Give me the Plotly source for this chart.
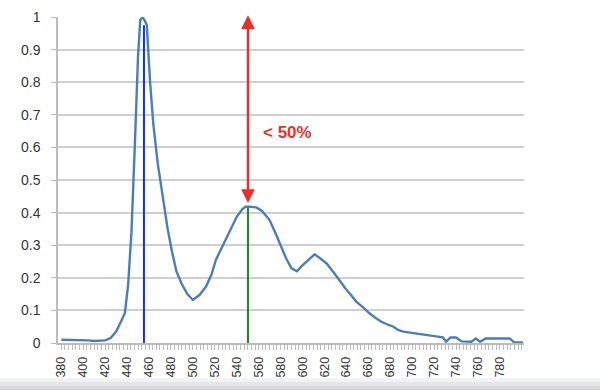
import plotly.graph_objects as go

wavelength = [380, 390, 400, 405, 410, 415, 420, 425, 430, 435, 438, 441, 444, 447, 450, 452, 454, 456, 458,
              461, 464, 468, 473, 477, 481, 485, 490, 495, 500, 506, 512, 517, 521, 526, 531, 535, 540, 545,
              548, 552, 558, 563, 570, 575, 579, 585, 590, 595, 599, 604, 611, 616, 622, 629, 634, 639, 644,
              649, 655, 661, 667, 672, 678, 683, 687, 692, 698, 707, 716, 725, 728, 731, 735, 740, 745, 754,
              758, 762, 767, 789, 793, 801]
intensity = [0.010, 0.010, 0.010, 0.008, 0.006, 0.006, 0.008, 0.015, 0.035, 0.07, 0.092, 0.18, 0.34, 0.60,
             0.88, 0.99, 1.0, 0.99, 0.975, 0.80, 0.67, 0.55, 0.44, 0.35, 0.28, 0.22, 0.18, 0.15, 0.132, 0.147,
             0.173, 0.21, 0.255, 0.29, 0.326, 0.355, 0.387, 0.41, 0.418, 0.418, 0.416, 0.405, 0.377, 0.34,
             0.306, 0.26, 0.229, 0.22, 0.235, 0.25, 0.272, 0.26, 0.244, 0.214, 0.19, 0.168, 0.148, 0.127,
             0.11, 0.091, 0.076, 0.065, 0.056, 0.05, 0.04, 0.035, 0.032, 0.028, 0.025, 0.019, 0.017, 0.004,
             0.017, 0.017, 0.005, 0.004, 0.014, 0.004, 0.014, 0.014, 0.002, 0.002]

blue_peak_x = 455.4
blue_peak_y = 0.975
green_peak_x = 550.3
green_peak_y = 0.415
arrow_top = 1.005
arrow_bottom = 0.425
label_text = "< 50%"
x_ticks = list(range(380, 781, 20))
y_ticks = [0, 0.1, 0.2, 0.3, 0.4, 0.5, 0.6, 0.7, 0.8, 0.9, 1]
y_labels = ["0", "0.1", "0.2", "0.3", "0.4", "0.5", "0.6", "0.7", "0.8", "0.9", "1"]

fig = go.Figure()
fig.add_trace(go.Scatter(x=wavelength, y=intensity, mode="lines",
                         line=dict(color="#4A7EBB", width=2.4), showlegend=False))
fig.add_trace(go.Scatter(x=[blue_peak_x, blue_peak_x], y=[0, blue_peak_y], mode="lines",
                         line=dict(color="#1030F0", width=2), showlegend=False))
fig.add_trace(go.Scatter(x=[green_peak_x, green_peak_x], y=[0, green_peak_y], mode="lines",
                         line=dict(color="#1E8A1E", width=2), showlegend=False))

fig.add_annotation(x=green_peak_x, y=arrow_top, ax=green_peak_x, ay=arrow_bottom,
                   xref="x", yref="y", axref="x", ayref="y", text="", showarrow=True,
                   arrowhead=2, startarrowhead=2, arrowside="end+start", arrowsize=1.1,
                   arrowwidth=2.5, arrowcolor="#E8302A")
fig.add_annotation(x=562.5, y=0.645, xref="x", yref="y", text="<b>" + label_text + "</b>",
                   showarrow=False, xanchor="left", yanchor="middle",
                   font=dict(family="Liberation Sans, Arial", size=17, color="#E8302A"))

# bottom gray band
band = [(-0.108, -0.12, "#f1f2f3"), (-0.12, -0.13, "#e4e6e8"), (-0.13, -0.139, "#d8dbde"),
        (-0.139, -0.15, "#cfd3d7")]
for y0, y1, c in band:
    fig.add_shape(type="rect", xref="paper", yref="paper", x0=-0.2, x1=1.3, y0=y1, y1=y0,
                  fillcolor=c, line=dict(width=0), layer="below")

fig.update_layout(
    width=600, height=390,
    margin=dict(l=58, r=76, t=17, b=47),
    plot_bgcolor="white", paper_bgcolor="white",
    font=dict(family="Liberation Sans, Arial", color="#333333"),
)
fig.update_xaxes(range=[377, 802], tickmode="array", tickvals=x_ticks,
                 ticktext=[str(v) for v in x_ticks], tickangle=-90, automargin=False,
                 tickfont=dict(size=12.5, color="#333333"),
                 showgrid=False, showline=True, linecolor="#BBBBBB", linewidth=1.5,
                 ticks="outside", ticklen=5, tickcolor="#BBBBBB", ticklabelstandoff=2,
                 minor=dict(ticks="outside", ticklen=5, tickcolor="#BBBBBB", tickmode="linear",
                            tick0=380, dtick=20 / 6),
                 zeroline=False)
fig.update_yaxes(range=[0, 1], tickmode="array", tickvals=y_ticks, ticktext=y_labels,
                 automargin=False,
                 tickfont=dict(size=14, color="#333333"),
                 showgrid=True, gridcolor="#CFCFCF", gridwidth=1.5,
                 showline=True, linecolor="#BBBBBB", linewidth=1.5,
                 ticks="outside", ticklen=5, tickcolor="#BBBBBB", ticklabelstandoff=8,
                 zeroline=False)

fig.write_html("out.html")
